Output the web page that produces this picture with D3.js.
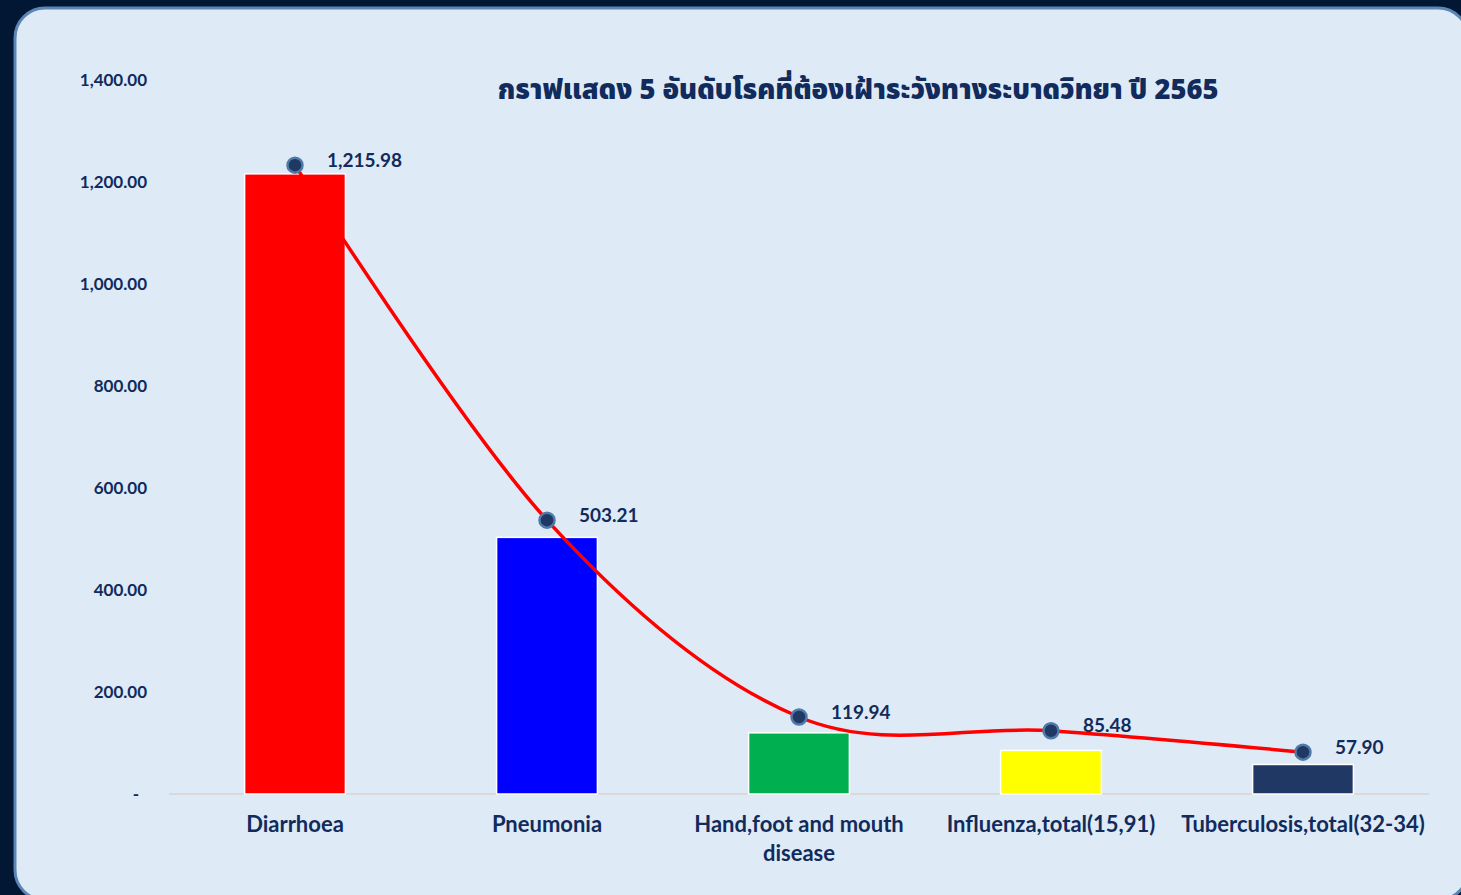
<!DOCTYPE html>
<html>
<head>
<meta charset="utf-8">
<script src="https://cdn.jsdelivr.net/npm/d3@7"></script>
<style>
  html, body { margin: 0; padding: 0; background: #021733; }
  #chart { width: 1461px; height: 895px; }
  text { font-family: Lato, "Open Sans", sans-serif; font-weight: bold; fill: #112b5c; }
</style>
</head>
<body>
<div id="chart"></div>
<script>
// DATA
const categories = ["Diarrhoea", "Pneumonia", "Hand,foot and mouth disease", "Influenza,total(15,91)", "Tuberculosis,total(32-34)"]
const values = [1215.98, 503.21, 119.94, 85.48, 57.90]
// the red trend line + markers sit a little above the bars in the picture
const markerValues = [1233, 537, 151, 124, 82]
const barColors = ["#ff0000", "#0000ff", "#00b050", "#ffff00", "#203864"]
const yTicks = [0, 200, 400, 600, 800, 1000, 1200, 1400]
const title = "กราฟแสดง 5 อันดับโรคที่ต้องเฝ้าระวังทางระบาดวิทยา ปี 2565"

// Size + margins
const width = 1461, height = 895
const margin = { top: 80, right: 32, bottom: 101, left: 169 }
const gWidth = width - margin.left - margin.right
const gHeight = height - margin.top - margin.bottom

const svg = d3.select("#chart").append("svg").attr("width", width).attr("height", height)

// background card
svg.append("rect").attr("width", width).attr("height", height).attr("fill", "#021733")
svg.append("rect")
  .attr("x", 15).attr("y", 8).attr("width", 1453).attr("height", 892)
  .attr("rx", 30).attr("ry", 30)
  .attr("fill", "#deeaf6").attr("stroke", "#5b85b5").attr("stroke-width", 3)

const graph = svg.append("g").attr("transform", `translate(${margin.left}, ${margin.top})`)

// Scales
const xScale = d3.scaleBand().domain(categories).range([0, gWidth]).paddingInner(0.6).paddingOuter(0.3)
const yScale = d3.scaleLinear().domain([0, 1400]).range([gHeight, 0])

// y axis labels (no line, no ticks)
const fmt = d3.format(",.2f")
graph.selectAll(".ylab").data(yTicks).enter().append("text")
  .attr("class", "ylab")
  .attr("x", d => d == 0 ? -30 : -22)
  .attr("y", d => yScale(d))
  .attr("dy", "0.35em")
  .attr("text-anchor", "end")
  .style("font-size", "17px")
  .text(d => d == 0 ? "-" : fmt(d))

// baseline
graph.append("line")
  .attr("x1", 0).attr("x2", gWidth)
  .attr("y1", yScale(0)).attr("y2", yScale(0))
  .attr("stroke", "#d9d9d9").attr("stroke-width", 2)

// bars
graph.selectAll(".bar").data(values).enter().append("rect")
  .attr("class", "bar")
  .attr("x", (d, i) => xScale(categories[i]))
  .attr("y", d => yScale(d))
  .attr("width", xScale.bandwidth())
  .attr("height", d => yScale(0) - yScale(d))
  .attr("fill", (d, i) => barColors[i])
  .attr("stroke", "#ffffff").attr("stroke-width", 1.5)

// smoothed red line
const cx = i => xScale(categories[i]) + xScale.bandwidth() / 2
const line = d3.line()
  .x((d, i) => cx(i))
  .y(d => yScale(d))
  .curve(d3.curveCardinal.tension(0))
graph.append("path")
  .attr("d", line(markerValues))
  .attr("fill", "none").attr("stroke", "#ff0000").attr("stroke-width", 3.5)

// markers
graph.selectAll(".marker").data(markerValues).enter().append("circle")
  .attr("class", "marker")
  .attr("cx", (d, i) => cx(i))
  .attr("cy", d => yScale(d))
  .attr("r", 7.5)
  .attr("fill", "#203864").attr("stroke", "#4f7aa8").attr("stroke-width", 2.5)

// data labels
graph.selectAll(".dlab").data(values).enter().append("text")
  .attr("class", "dlab")
  .attr("x", (d, i) => cx(i) + 32)
  .attr("y", (d, i) => yScale(markerValues[i]) - 5)
  .attr("dy", "0.35em")
  .style("font-size", "19px")
  .text(d => fmt(d))

// x labels
const xl = graph.selectAll(".xlab").data(categories).enter().append("text")
  .attr("class", "xlab")
  .attr("x", (d, i) => cx(i))
  .attr("y", gHeight + 38)
  .attr("text-anchor", "middle")
  .style("font-size", "22px")
  .text(d => d)
xl.call(wrap, 252)

// title
svg.append("text")
  .attr("x", 858).attr("y", 99)
  .attr("text-anchor", "middle")
  .style("font-family", "'Noto Sans Thai', 'Noto Sans', sans-serif")
  .style("font-weight", "900")
  .style("font-size", "27.3px")
  .text(title)

function wrap(texts, w) {
  texts.each(function() {
    const text = d3.select(this)
    const words = text.text().split(/\s+/)
    const x = text.attr("x"), y = text.attr("y")
    text.text(null)
    let lineWords = []
    let tspan = text.append("tspan").attr("x", x).attr("y", y)
    let lineNo = 0
    words.forEach(word => {
      lineWords.push(word)
      tspan.text(lineWords.join(" "))
      if (tspan.node().getComputedTextLength() > w && lineWords.length > 1) {
        lineWords.pop()
        tspan.text(lineWords.join(" "))
        lineWords = [word]
        lineNo++
        tspan = text.append("tspan").attr("x", x).attr("y", +y + lineNo * 29).text(word)
      }
    })
  })
}
</script>
</body>
</html>
